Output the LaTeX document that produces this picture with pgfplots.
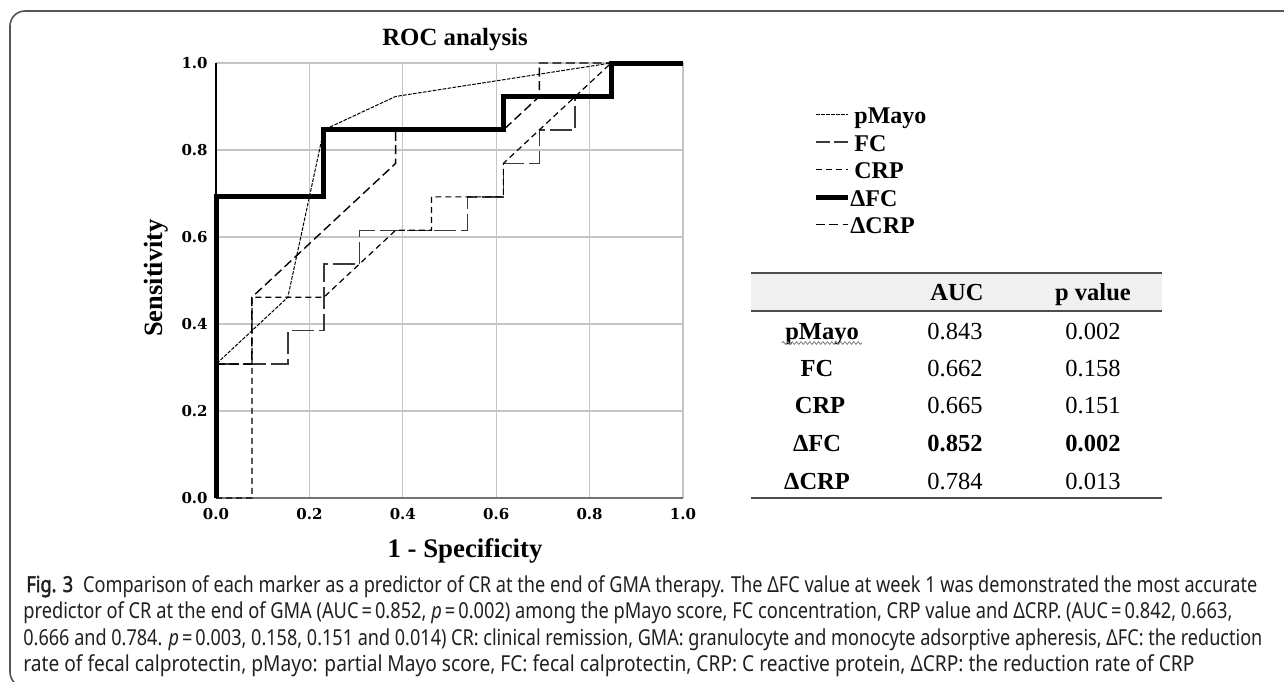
\documentclass[border=0pt]{standalone}
\usepackage{fontspec}
\setmainfont{Liberation Serif}
\newfontfamily\tickfam{DejaVu Serif}
\newfontfamily\capfam{Noto Sans}
\newfontfamily\capbf{Noto Sans}[FakeBold=2.2]
\usepackage{graphicx}
\usepackage{pgfplots}
\pgfplotsset{compat=1.18}
\usetikzlibrary{decorations.pathmorphing}
\definecolor{gridc}{HTML}{C4C4C4}
\definecolor{capc}{HTML}{231F20}
\definecolor{hdr}{HTML}{F0F0F0}
\definecolor{framec}{HTML}{555555}
\definecolor{fcc}{HTML}{3A3A3A}

\newsavebox\capA
\newsavebox\capB
\newsavebox\capC
\newsavebox\capD

\pgfplotstableread{
x y
0 0
0 0.3077
0.1538 0.4615
0.2308 0.8462
0.3846 0.9231
0.8462 1
1 1
}\pmayo
\pgfplotstableread{
x y
0 0
0 0.3077
0.1538 0.3077
0.1538 0.3846
0.2308 0.3846
0.2308 0.5385
0.3077 0.5385
0.3077 0.6154
0.5385 0.6154
0.5385 0.6923
0.6154 0.6923
0.6154 0.7692
0.6923 0.7692
0.6923 0.8462
0.7692 0.8462
0.7692 0.9231
0.8462 0.9231
0.8462 1
1 1
}\fc
\pgfplotstableread{
x y
0 0
0.0769 0
0.0769 0.4615
0.2308 0.4615
0.3846 0.6154
0.4615 0.6154
0.4615 0.6923
0.6154 0.6923
0.6154 0.7692
0.8462 1
1 1
}\crp
\pgfplotstableread{
x y
0 0
0 0.6923
0.2308 0.6923
0.2308 0.8462
0.6154 0.8462
0.6154 0.9231
0.8462 0.9231
0.8462 1
1 1
}\dfc
\pgfplotstableread{
x y
0 0
0 0.3077
0.0769 0.3077
0.0769 0.4615
0.3846 0.7692
0.3846 0.8462
0.6154 0.8462
0.6923 0.9231
0.6923 1
1 1
}\dcrp

\begin{document}
\sbox\capA{\fontsize{11pt}{13pt}\capfam\color{capc}{\capbf Fig. 3}\hspace{0.55em}Comparison of each marker as a predictor of CR at the end of GMA therapy. The ΔFC value at week 1 was demonstrated the most accurate}%
\sbox\capB{\fontsize{11pt}{13pt}\capfam\color{capc}predictor of CR at the end of GMA (AUC\,=\,0.852, \textit{p}\,=\,0.002) among the pMayo score, FC concentration, CRP value and ΔCRP. (AUC\,=\,0.842, 0.663,}%
\sbox\capC{\fontsize{11pt}{13pt}\capfam\color{capc}0.666 and 0.784. \textit{p}\,=\,0.003, 0.158, 0.151 and 0.014) CR: clinical remission, GMA: granulocyte and monocyte adsorptive apheresis, ΔFC: the reduction}%
\sbox\capD{\fontsize{11pt}{13pt}\capfam\color{capc}rate of fecal calprotectin, pMayo: partial Mayo score, FC: fecal calprotectin, CRP: C reactive protein, ΔCRP: the reduction rate of CRP}%
\pgfmathsetmacro\sfA{(1231*0.5)/\the\wd\capA}%
\pgfmathsetmacro\sfB{(1209*0.5)/\the\wd\capB}%
\pgfmathsetmacro\sfC{(1239*0.5)/\the\wd\capC}%
\pgfmathsetmacro\sfD{(1171*0.5)/\the\wd\capD}%
\begin{tikzpicture}
\begin{scope}[x=0.5pt,y=-0.5pt]
\useasboundingbox (0,0) rectangle (1284,681);
\fill[white] (0,0) rectangle (1284,681);
% frame
\draw[framec, line width=0.8pt] (1290,11) -- (25,11) arc[start angle=270, end angle=180, radius=15] -- (10,672) arc[start angle=180, end angle=90, radius=15];
\end{scope}

\begin{axis}[
  at={(108pt,-249pt)}, anchor=south west,
  width=233.5pt, height=217.5pt, scale only axis,
  xmin=0, xmax=1, ymin=0, ymax=1,
  xtick={0,0.2,0.4,0.6,0.8,1}, ytick={0,0.2,0.4,0.6,0.8,1},
  xticklabels={0.0,0.2,0.4,0.6,0.8,1.0},
  yticklabels={0.0,0.2,0.4,0.6,0.8,1.0},
  axis x line*=bottom, axis y line*=left,
  x axis line style={-, draw=black!55, line width=1pt},
  y axis line style={-, draw=black, line width=0.6pt},
  major tick length=0pt, tick style={draw=none},
  grid=major, major grid style={draw=gridc, line width=0.6pt},
  tick label style={font=\fontsize{7.5pt}{8.5pt}\tickfam\bfseries},
  yticklabel style={inner sep=0pt, anchor=east, xshift=-4pt},
  xticklabel style={inner sep=0pt, anchor=north, yshift=-5pt},
  clip=false,
  legend style={at={(1.2784,0.901)}, anchor=north west, draw=none, fill=none,
    inner sep=0pt, row sep=0pt, column sep=0pt,
    font=\fontsize{12pt}{12pt}\selectfont\bfseries,
    nodes={inner sep=0pt, text height=8.6pt, text depth=5.15pt}},
  legend cell align=left,
  legend image code/.code={\draw[#1] (0pt,2.8pt) -- (16pt,2.8pt);},
]
\addplot[black, line width=0.5pt, dash pattern=on 1.8pt off 0.7pt] table {\pmayo};
\addlegendentry{\,pMayo}
\addplot[fcc, line width=0.75pt, dash pattern=on 11pt off 2.5pt, legend image post style={dash pattern=on 7pt off 2pt}] table {\fc};
\addlegendentry{\,FC}
\addplot[black, line width=0.6pt, dash pattern=on 3pt off 2pt] table {\crp};
\addlegendentry{\,CRP}
\addplot[black, line width=2.5pt] table {\dfc};
\addlegendentry{ΔFC}
\addplot[black, line width=0.7pt, dash pattern=on 4.5pt off 2.2pt] table {\dcrp};
\addlegendentry{ΔCRP}
\end{axis}

\begin{scope}[x=0.5pt,y=-0.5pt]
% titles
\node[anchor=base, inner sep=0pt, font=\fontsize{12.4pt}{14pt}\selectfont\bfseries] at (455,45) {ROC analysis};
\node[anchor=base, inner sep=0pt, rotate=90, font=\fontsize{13.2pt}{15pt}\selectfont\bfseries] at (162,278) {Sensitivity};
\node[anchor=base, inner sep=0pt, font=\fontsize{13.4pt}{15pt}\selectfont\bfseries] at (465,557) {1 - Specificity};
% table
\fill[hdr] (751,273) rectangle (1162,311);
\draw[black!70, line width=1pt] (751,273) -- (1162,273);
\draw[black!70, line width=1pt] (751,311) -- (1162,311);
\draw[black!70, line width=1pt] (751,498) -- (1162,498);
\begin{scope}[every node/.style={anchor=base, inner sep=0pt, font=\fontsize{12.25pt}{14pt}\selectfont}]
\node[font=\fontsize{12.25pt}{14pt}\selectfont\bfseries] at (957,300) {AUC};
\node[font=\fontsize{12.25pt}{14pt}\selectfont\bfseries] at (1093,300) {p value};
\node[font=\fontsize{12.25pt}{14pt}\selectfont\bfseries] at (822,339) {pMayo};
\node[font=\fontsize{12.25pt}{14pt}\selectfont\bfseries] at (817,376) {FC};
\node[font=\fontsize{12.25pt}{14pt}\selectfont\bfseries] at (820,413) {CRP};
\node[font=\fontsize{12.25pt}{14pt}\selectfont\bfseries] at (817,451) {ΔFC};
\node[font=\fontsize{12.25pt}{14pt}\selectfont\bfseries] at (817,489) {ΔCRP};
\node at (955,339) {0.843};
\node at (955,376) {0.662};
\node at (955,413) {0.665};
\node[font=\fontsize{12.25pt}{14pt}\selectfont\bfseries] at (955,451) {0.852};
\node at (955,489) {0.784};
\node at (1093,339) {0.002};
\node at (1093,376) {0.158};
\node at (1093,413) {0.151};
\node[font=\fontsize{12.25pt}{14pt}\selectfont\bfseries] at (1093,451) {0.002};
\node at (1093,489) {0.013};
\end{scope}
\draw[gray, line width=0.4pt, decorate, decoration={snake, amplitude=0.7pt, segment length=2.2pt}] (782,343) -- (862,343);
% caption
\node[anchor=base west, inner sep=0pt] at (26,592) {\scalebox{\sfA}[1]{\usebox\capA}};
\node[anchor=base west, inner sep=0pt] at (23,618.5) {\scalebox{\sfB}[1]{\usebox\capB}};
\node[anchor=base west, inner sep=0pt] at (23,645) {\scalebox{\sfC}[1]{\usebox\capC}};
\node[anchor=base west, inner sep=0pt] at (23,671.5) {\scalebox{\sfD}[1]{\usebox\capD}};
\end{scope}
\end{tikzpicture}
\end{document}
